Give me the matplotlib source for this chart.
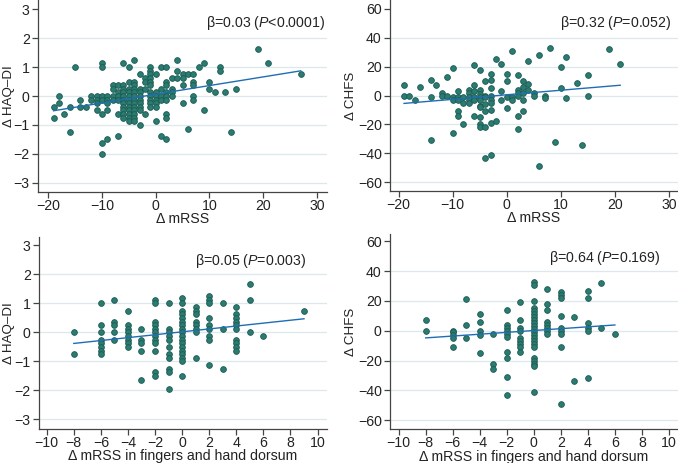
import numpy as np
import matplotlib
matplotlib.use("Agg")
import matplotlib.pyplot as plt

plt.rcParams['font.family'] = ['Liberation Sans', 'DejaVu Sans']
plt.rcParams['mathtext.fontset'] = 'custom'
plt.rcParams['mathtext.rm'] = 'Liberation Sans'
plt.rcParams['mathtext.it'] = 'Liberation Sans:italic'

# ---- data ----
# panel A: change in mRSS vs change in HAQ-DI
mrss_levels_a = [-19, -18, -17, -16, -15, -14, -13, -12, -11, -10, -9, -8, -7, -6, -5, -4, -3, -2, -1,
                 0, 1, 2, 3, 4, 5, 6, 7, 8, 9, 10, 11, 12, 13, 14, 15, 19, 21, 27]
haq_groups_a = [
    [-0.375, -0.75], [0, -0.25], [-0.625], [-0.375, -1.25], [1.0], [-0.125, -0.375], [-0.375],
    [0, -0.125], [0, -0.125, -0.25, -0.5],
    [1.125, 1.0, 0, -0.125, -0.625, -1.625, -2.0],
    [0, -0.125, -0.25, -0.5, -1.5],
    [0.375, 0.25, 0, -0.125],
    [0.375, 0.125, 0, -0.125, -0.625, -1.375],
    [1.125, 0.375, 0.25, 0.125, 0, -0.125, -0.25, -0.375, -0.5, -0.625, -0.75],
    [1.0, 0.5, 0.25, 0.125, 0, -0.125, -0.25, -0.375, -0.5, -0.625, -0.75, -0.875],
    [1.25, 0.5, 0.375, 0.25, 0.125, 0, -0.125, -0.25, -0.375, -0.5, -0.625, -0.75, -0.875],
    [0.75, 0.25, 0.125, 0, -0.125, -0.25, -0.375, -0.5, -1.0],
    [0.625, 0.5, 0.25, -0.625],
    [1.0, 0.875, 0.75, 0.625, 0.5, 0.375, 0.125, 0, -0.125, -0.25, -0.375],
    [0.75, 0.125, 0, -0.125, -0.25, -0.375, -0.875],
    [1.0, 0.25, 0, -0.125, -1.375],
    [1.0, 0.5, 0.375, 0.125, 0, -0.125, -0.625, -0.75, -1.5],
    [0.625, 0.25, 0.125, 0],
    [1.25, 0.875, 0.625],
    [0.75, 0.625, 0.375, -0.25],
    [0.75, -1.125],
    [0.75, 0.5, 0.375, 0, -0.125],
    [1.0], [1.125, -0.5], [0.5, 0.25], [0.125], [1.0, 0.875], [0.125], [-1.25], [0.25],
    [1.625], [1.125], [0.75],
]

# panel B: change in mRSS vs change in CHFS
mrss_levels_b = [-19, -18, -17, -16, -14, -13, -12, -11, -10, -9, -8, -7, -6, -5, -4, -3, -2, -1,
                 0, 1, 2, 3, 4, 5, 6, 7, 8, 9, 10, 11, 13, 14, 15, 19, 21]
chfs_groups_b = [
    [7, 0], [0], [-3], [6], [11, -1, -31], [7], [2, 0], [13, 0],
    [19, -1, -3, -26],
    [3, -1, -3, -11, -14],
    [-1, -5, -20],
    [4, 2, -1, -3, -5],
    [21, 7, 3, -1, -3, -14],
    [18, 4, 1, -1, -3, -7, -8, -15, -20, -22],
    [10, 0, -1, -6, -11, -22, -43],
    [15, 11, 5, 0, -3, -5, -10, -19, -41],
    [25, -18],
    [22, 3, -3],
    [15, 10, -1, -9],
    [31, -1, -3],
    [14, 4, 2, 0, -14, -23],
    [10, 6, 2, -3, -11],
    [24, 8, 4],
    [2, 0],
    [28, -49],
    [0, -2],
    [33], [-32], [20, 5], [27, -2], [9], [-34], [14, 0], [32], [22],
]

# panel C: change in finger/hand mRSS vs change in HAQ-DI
hand_levels_c = [-8, -6, -5, -4, -3, -2, -1, 0, 1, 2, 3, 4, 5, 6, 9]
haq_groups_c = [
    [0, -0.75],
    [1.0, 0.25, 0, -0.25, -0.375, -0.5, -0.625, -0.75],
    [1.125, 0.375, 0.25, 0, -0.25],
    [0.75, 0.25, 0.125, 0, -0.125, -0.25, -0.375, -0.5],
    [0.125, -0.25, -0.375, -0.625, -1.625],
    [1.125, 1.0, 0.375, 0.25, 0.125, 0, -0.125, -0.25, -0.375, -0.625, -1.375, -1.5],
    [1.0, 0.125, 0, -0.125, -0.25, -0.5, -0.75, -0.875, -1.25, -1.375, -1.95],
    [1.2, 1.0, 0.75, 0.625, 0.5, 0.375, 0.25, 0.125, 0, -0.125, -0.25, -0.375, -0.5,
     -0.625, -0.75, -0.875, -1.0, -1.5],
    [0.875, 0.75, 0.625, 0.375, 0.25, 0.125, 0, -0.875],
    [1.25, 1.125, 1.0, 0.5, 0.25, 0.125, -0.125, -0.25, -1.125],
    [1.0, 0.125, -1.25],
    [0.875, 0.625, 0.5, 0.375, 0.25, 0.125, -0.25, -0.375, -0.5, -0.625],
    [1.67, 1.125, 0],
    [-0.125],
    [0.75],
]

# panel D: change in finger/hand mRSS vs change in CHFS
hand_levels_d = [-8, -6, -5, -4, -3, -2, -1, 0, 1, 2, 3, 4, 5, 6]
chfs_groups_d = [
    [7, 0],
    [0, -1, -3, -5, -11],
    [21, 4, -5],
    [11, 6, 0, -3, -15],
    [-2, -22, -26],
    [14, 4, 2, 0, -2, -4, -14, -18, -31, -43],
    [19, 7, 2, 0, -5, -7, -9, -11, -14],
    [33, 31, 20, 15, 13, 11, 9, 7, 5, 3, 1, -1, -3, -5, -7, -9, -11, -18, -20, -22, -24, -41],
    [28, 18, 14, 6, 4, 2, 0, -2],
    [26, 24, 22, 10, 2, 0, -2, -11, -49],
    [9, -34],
    [27, 22, 5, 2, 0, -32],
    [32, 2],
    [-2],
]

# fitted lines: slope, intercept
fit_a = (0.030, 0.06)
fit_b = (0.315, 0.5)
fit_c = (0.050, 0.02)
fit_d = (0.62, 0.16)

labels = [r"β=0.03 ($P$<0.0001)", r"β=0.32 ($P$=0.052)",
          r"β=0.05 ($P$=0.003)", r"β=0.64 ($P$=0.169)"]

DOT = "#2b7b70"
DOT_EDGE = "#1b5a52"
LINE = "#1f6db3"
GRID = "#dde8ee"
AXC = "#444444"
FS = 10.2


def expand(levels, groups):
    xs, ys = [], []
    for lv, g in zip(levels, groups):
        xs += [lv] * len(g)
        ys += g
    return np.array(xs, float), np.array(ys, float)


fig = plt.figure(figsize=(6.78, 4.63), dpi=100)
W, H = 678, 463

def make_ax(left, right, top, bottom):
    return fig.add_axes([left / W, 1 - bottom / H, (right - left) / W, (bottom - top) / H])

ax_a = make_ax(38, 327, 0, 192)
ax_b = make_ax(390, 678, 0.3, 190.7)
ax_c = make_ax(39, 327, 236.7, 429)
ax_d = make_ax(390, 678, 234, 429)

# (axes, x levels, y groups, fit, xlim, ylim, xticks, yticks, xlabel, ylabel,
#  text pos, ylabel x, xlabel y)
panels = [
    (ax_a, mrss_levels_a, haq_groups_a, fit_a, (-21.9, 31.9), (-3.32, 3.32),
     [-20, -10, 0, 10, 20, 30], [-3, -2, -1, 0, 1, 2, 3], "Δ mRSS", "Δ HAQ–DI",
     (0.993, 0.88), -0.10, -0.14),
    (ax_b, mrss_levels_b, chfs_groups_b, fit_b, (-21.6, 31.7), (-66, 66),
     [-20, -10, 0, 10, 20, 30], [-60, -40, -20, 0, 20, 40, 60], "Δ mRSS", "Δ CHFS",
     (0.976, 0.88), -0.135, -0.145),
    (ax_c, hand_levels_c, haq_groups_c, fit_c, (-10.57, 10.7), (-3.33, 3.3),
     list(range(-10, 11, 2)), [-3, -2, -1, 0, 1, 2, 3], "Δ mRSS in fingers and hand dorsum",
     "Δ HAQ–DI", (0.93, 0.875), -0.105, -0.142),
    (ax_d, hand_levels_d, chfs_groups_d, fit_d, (-10.64, 10.67), (-66, 65),
     list(range(-10, 11, 2)), [-60, -40, -20, 0, 20, 40, 60], "Δ mRSS in fingers and hand dorsum",
     "Δ CHFS", (0.94, 0.875), -0.135, -0.142),
]

for (ax, lv, gr, fit, xl, yl, xt, yt, xlab, ylab, tpos, ylx, xly), lab in zip(panels, labels):
    x, y = expand(lv, gr)
    for t in yt[:-1]:
        ax.axhline(t, color=GRID, lw=0.9, zorder=0)
    ax.scatter(x, y, s=17, color=DOT, edgecolors=DOT_EDGE, linewidths=0.6, zorder=3)
    xx = np.array([x.min(), x.max()])
    ax.plot(xx, fit[0] * xx + fit[1], color=LINE, lw=1.0, zorder=4)
    ax.set_xlim(*xl)
    ax.set_ylim(*yl)
    ax.set_xticks(xt)
    ax.set_yticks(yt)
    for s in ["top", "right"]:
        ax.spines[s].set_visible(False)
    for s in ["left", "bottom"]:
        ax.spines[s].set_color(AXC)
        ax.spines[s].set_linewidth(0.9)
    ax.tick_params(direction="out", length=4, width=0.9, color=AXC, labelsize=FS,
                   labelcolor="#222222", pad=2)
    ax.tick_params(axis="x", pad=1)
    ax.set_xlabel(xlab, fontsize=FS, color="#222222", va="center")
    ax.set_ylabel(ylab, fontsize=9.6, color="#222222", va="center")
    ax.xaxis.set_label_coords(0.5, xly)
    ax.yaxis.set_label_coords(ylx, 0.5)
    ax.text(tpos[0], tpos[1], lab, transform=ax.transAxes, ha="right", va="center",
            fontsize=FS, color="#222222")

fig.savefig("out.png", dpi=100)
